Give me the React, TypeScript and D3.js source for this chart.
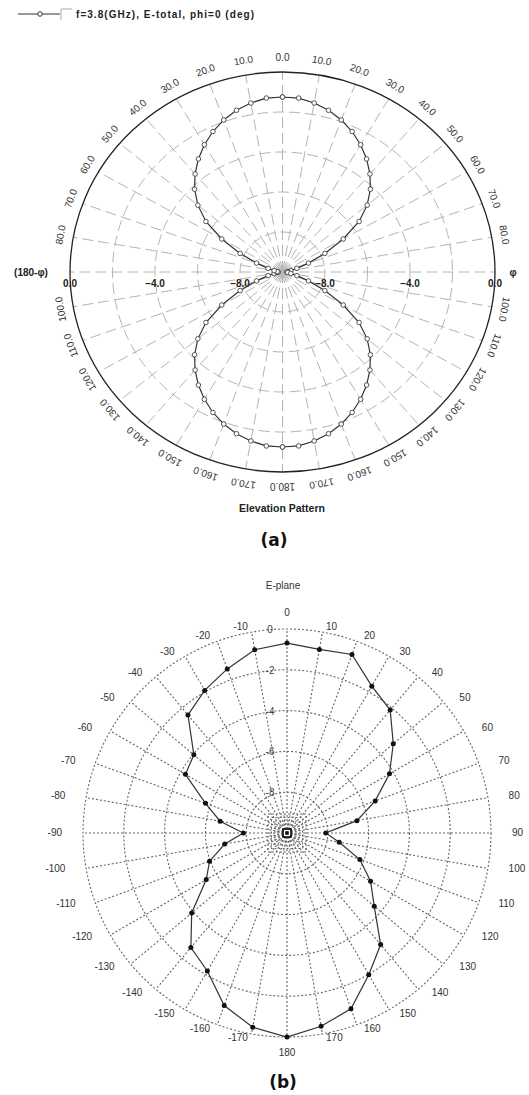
import React from "react";
import * as d3 from "d3";

// ---- (a) Elevation pattern, f = 3.8 GHz, E-total, theta every 5 deg ----
const ELEV_THETA = [
  0, 5, 10, 15, 20, 25, 30, 35, 40, 45, 50, 55, 60, 65, 70, 75, 80, 85, 90,
  95, 100, 105, 110, 115, 120, 125, 130, 135, 140, 145, 150, 155, 160, 165, 170, 175, 180,
];
const ELEV_GAIN_DB = [
  -1.25, -1.27, -1.42, -1.63, -1.91, -2.25, -2.65, -3.1, -3.6, -4.15, -4.8, -5.6, -6.7, -7.8,
  -8.7, -9.3, -9.6, -9.75, -9.8, -9.75, -9.6, -9.3, -8.7, -7.8, -6.7, -5.6, -4.8, -4.15, -3.6,
  -3.1, -2.65, -2.25, -1.91, -1.63, -1.42, -1.27, -1.25,
];
const ELEV_GRID_DB = [-8, -6, -4, -2];
const ELEV_AXIS_TICKS = [0, -4, -8];
const ELEV_THETA_TICKS = [0, 10, 20, 30, 40, 50, 60, 70, 80, 90, 100, 110, 120, 130, 140, 150, 160, 170, 180];
const ELEV_LEGEND = "f=3.8(GHz), E-total, phi=0 (deg)";

// ---- (b) E-plane cut, gain in dB every 10 deg ----
const EPLANE_THETA = [
  0, 10, 20, 30, 40, 50, 60, 70, 80, 90, 100, 110, 120, 130, 140, 150, 160, 170, 180,
  -170, -160, -150, -140, -130, -120, -110, -100, -90, -80, -70, -60, -50, -40, -30, -20, -10,
];
const EPLANE_GAIN_DB = [
  -0.69, -0.86, -0.69, -1.69, -2.13, -3.2, -4.2, -5.4, -6.52, -8.1, -7.4, -6.2, -5.27, -4.42,
  -2.86, -1.98, -0.83, -0.38, 0.0,
  -0.33, -1.0, -2.19, -2.67, -3.9, -5.43, -5.96, -6.9, -7.86, -6.67, -5.75, -4.25, -4.04, -2.45,
  -1.93, -1.44, -0.88,
];
const EPLANE_RINGS_DB = [-8, -6, -4, -2, 0];
const EPLANE_THETA_TICKS = [
  0, 10, 20, 30, 40, 50, 60, 70, 80, 90, 100, 110, 120, 130, 140, 150, 160, 170, 180,
  -10, -20, -30, -40, -50, -60, -70, -80, -90, -100, -110, -120, -130, -140, -150, -160, -170,
];

const SANS = "'Liberation Sans', Arial, sans-serif";
const rad = (d: number) => (d * Math.PI) / 180;

function ElevationChart() {
  const cx = 282.5;
  const cy = 272;
  const rx = 212.5;
  const ry = 200;
  const norm = d3.scaleLinear().domain([-10, 0]).range([0, 1]).clamp(true);
  const fmt = d3.format(".1f");

  // right half is phi = 0, left half is phi = 180 (mirrored)
  const pts: [number, number][] = [];
  ELEV_THETA.forEach((t, i) => {
    const u = norm(ELEV_GAIN_DB[i]);
    pts.push([cx + rx * u * Math.sin(rad(t)), cy - ry * u * Math.cos(rad(t))]);
  });
  for (let i = ELEV_THETA.length - 1; i >= 0; i--) {
    const t = ELEV_THETA[i];
    const u = norm(ELEV_GAIN_DB[i]);
    pts.push([cx - rx * u * Math.sin(rad(t)), cy - ry * u * Math.cos(rad(t))]);
  }
  const line = d3.line<[number, number]>().x((d) => d[0]).y((d) => d[1]);

  const spokes: number[] = [];
  ELEV_THETA_TICKS.forEach((t) => {
    spokes.push(t);
    if (t !== 0 && t !== 180) spokes.push(-t);
  });

  const angleLabels: { x: number; y: number; rot: number; text: string }[] = [];
  ELEV_THETA_TICKS.forEach((t) => {
    if (t === 90) return;
    const sides = t === 0 || t === 180 ? [1] : [1, -1];
    sides.forEach((s) => {
      angleLabels.push({
        x: cx + s * (rx + 12) * Math.sin(rad(t)),
        y: cy - (ry + 14) * Math.cos(rad(t)),
        rot: s * t,
        text: fmt(t),
      });
    });
  });

  return (
    <g>
      {/* legend */}
      <line x1={18} y1={14} x2={60} y2={14} stroke="#333" strokeWidth={1.2} />
      <circle cx={40} cy={14} r={2.3} fill="#fff" stroke="#333" strokeWidth={1} />
      <path d="M61,20 V9 H72" fill="none" stroke="#aaa" strokeWidth={1} />
      <text x={76} y={18} fontFamily={SANS} fontWeight="bold" fontSize={10} fill="#222" textLength={178}>
        {ELEV_LEGEND}
      </text>

      {/* grid rings */}
      {ELEV_GRID_DB.map((v) => (
        <ellipse key={v} cx={cx} cy={cy} rx={rx * norm(v)} ry={ry * norm(v)} fill="none"
          stroke="#b4b4b4" strokeWidth={1} strokeDasharray="11,5" />
      ))}
      {/* spokes */}
      {spokes.map((t) => (
        <line key={t} x1={cx} y1={cy} x2={cx + rx * Math.sin(rad(t))} y2={cy - ry * Math.cos(rad(t))}
          stroke="#b4b4b4" strokeWidth={1} strokeDasharray="11,5" />
      ))}
      <ellipse cx={cx} cy={cy} rx={rx} ry={ry} fill="none" stroke="#222" strokeWidth={1.3} />

      {/* radial axis labels */}
      {ELEV_AXIS_TICKS.map((v) =>
        [1, -1].map((s) => (
          <text key={`${v}${s}`} x={cx + s * rx * norm(v)} y={cy + 15} textAnchor="middle"
            fontFamily={SANS} fontWeight="bold" fontSize={10} fill="#222">
            {fmt(v)}
          </text>
        ))
      )}
      <text x={31} y={cy + 4} textAnchor="middle" fontFamily={SANS} fontWeight="bold" fontSize={10} fill="#222">
        (180-φ)
      </text>
      <text x={513} y={cy + 4} textAnchor="middle" fontFamily={SANS} fontWeight="bold" fontSize={10} fill="#222">
        φ
      </text>

      {/* angle labels */}
      {angleLabels.map((l, i) => (
        <text key={i} transform={`translate(${l.x},${l.y}) rotate(${l.rot})`} textAnchor="middle"
          dominantBaseline="middle" fontFamily={SANS} fontSize={10} fill="#333">
          {l.text}
        </text>
      ))}

      {/* pattern */}
      <path d={line(pts) ?? ""} fill="none" stroke="#333" strokeWidth={1.2} />
      {pts.map((p, i) => (
        <circle key={i} cx={p[0]} cy={p[1]} r={2.3} fill="#fff" stroke="#444" strokeWidth={0.9} />
      ))}

      <text x={282} y={512} textAnchor="middle" fontFamily={SANS} fontWeight="bold" fontSize={10.5} fill="#222">
        Elevation Pattern
      </text>
      <text x={274} y={546} textAnchor="middle" fontFamily="'DejaVu Sans', Verdana, sans-serif" fontWeight="bold" fontSize={17} fill="#111">
        (a)
      </text>
    </g>
  );
}

function EPlaneChart() {
  const cx = 287;
  const cy = 833;
  const R = 204;
  const r = d3.scaleLinear().domain([-10, 0]).range([0, R]).clamp(true);

  const pts: [number, number][] = EPLANE_THETA.map((t, i) => {
    const rr = r(EPLANE_GAIN_DB[i]);
    return [cx + rr * Math.sin(rad(t)), cy - rr * Math.cos(rad(t))];
  });
  const line = d3.line<[number, number]>().x((d) => d[0]).y((d) => d[1]).curve(d3.curveLinearClosed);

  const dotted = { stroke: "#666", strokeWidth: 1.1, strokeDasharray: "2,2", fill: "none" };

  return (
    <g>
      <text x={283} y={589} textAnchor="middle" fontFamily={SANS} fontSize={10} fill="#333">
        E-plane
      </text>

      {/* spokes */}
      {EPLANE_THETA_TICKS.map((t) => (
        <line key={t} x1={cx} y1={cy} x2={cx + R * Math.sin(rad(t))} y2={cy - R * Math.cos(rad(t))} {...dotted} />
      ))}
      {/* rings */}
      {EPLANE_RINGS_DB.map((v) => (
        <circle key={v} cx={cx} cy={cy} r={r(v)} {...dotted} />
      ))}
      {/* innermost rings collapse to small squares around the origin */}
      {[19, 15.5, 12, 8].map((h) => (
        <rect key={h} x={cx - h} y={cy - h} width={2 * h} height={2 * h} {...dotted} />
      ))}
      <rect x={cx - 4} y={cy - 4} width={8} height={8} fill="none" stroke="#111" strokeWidth={1.6} />
      <rect x={cx - 1.5} y={cy - 1.5} width={3} height={3} fill="#111" />

      {/* ring labels */}
      {EPLANE_RINGS_DB.map((v) => (
        <text key={v} x={cx - 17} y={cy - r(v) + 4} textAnchor="middle" fontFamily={SANS} fontSize={10} fill="#444">
          {v}
        </text>
      ))}

      {/* angle labels */}
      {EPLANE_THETA_TICKS.map((t) => {
        const s = Math.sin(rad(t));
        const c = Math.cos(rad(t));
        const isPole = t === 0 || t === 180;
        const x = isPole ? cx : cx + 225 * s;
        const y = isPole ? cy - 220 * c : cy - 209 * c;
        const anchor = isPole ? "middle" : s > 0 ? "start" : "end";
        return (
          <text key={t} x={x} y={y} textAnchor={anchor} dominantBaseline="middle" fontFamily={SANS}
            fontSize={10} fill="#333">
            {t}
          </text>
        );
      })}

      {/* pattern */}
      <path d={line(pts) ?? ""} fill="none" stroke="#333" strokeWidth={1.2} />
      {pts.map((p, i) => (
        <circle key={i} cx={p[0]} cy={p[1]} r={2.5} fill="#111" />
      ))}

      <text x={283} y={1088} textAnchor="middle" fontFamily="'DejaVu Sans', Verdana, sans-serif" fontWeight="bold" fontSize={17} fill="#111">
        (b)
      </text>
    </g>
  );
}

export default function App() {
  return (
    <svg width={529} height={1095} viewBox="0 0 529 1095"
      style={{ position: "absolute", left: 0, top: 0, background: "#fff" }}>
      <rect width={529} height={1095} fill="#fff" />
      <ElevationChart />
      <EPlaneChart />
    </svg>
  );
}
